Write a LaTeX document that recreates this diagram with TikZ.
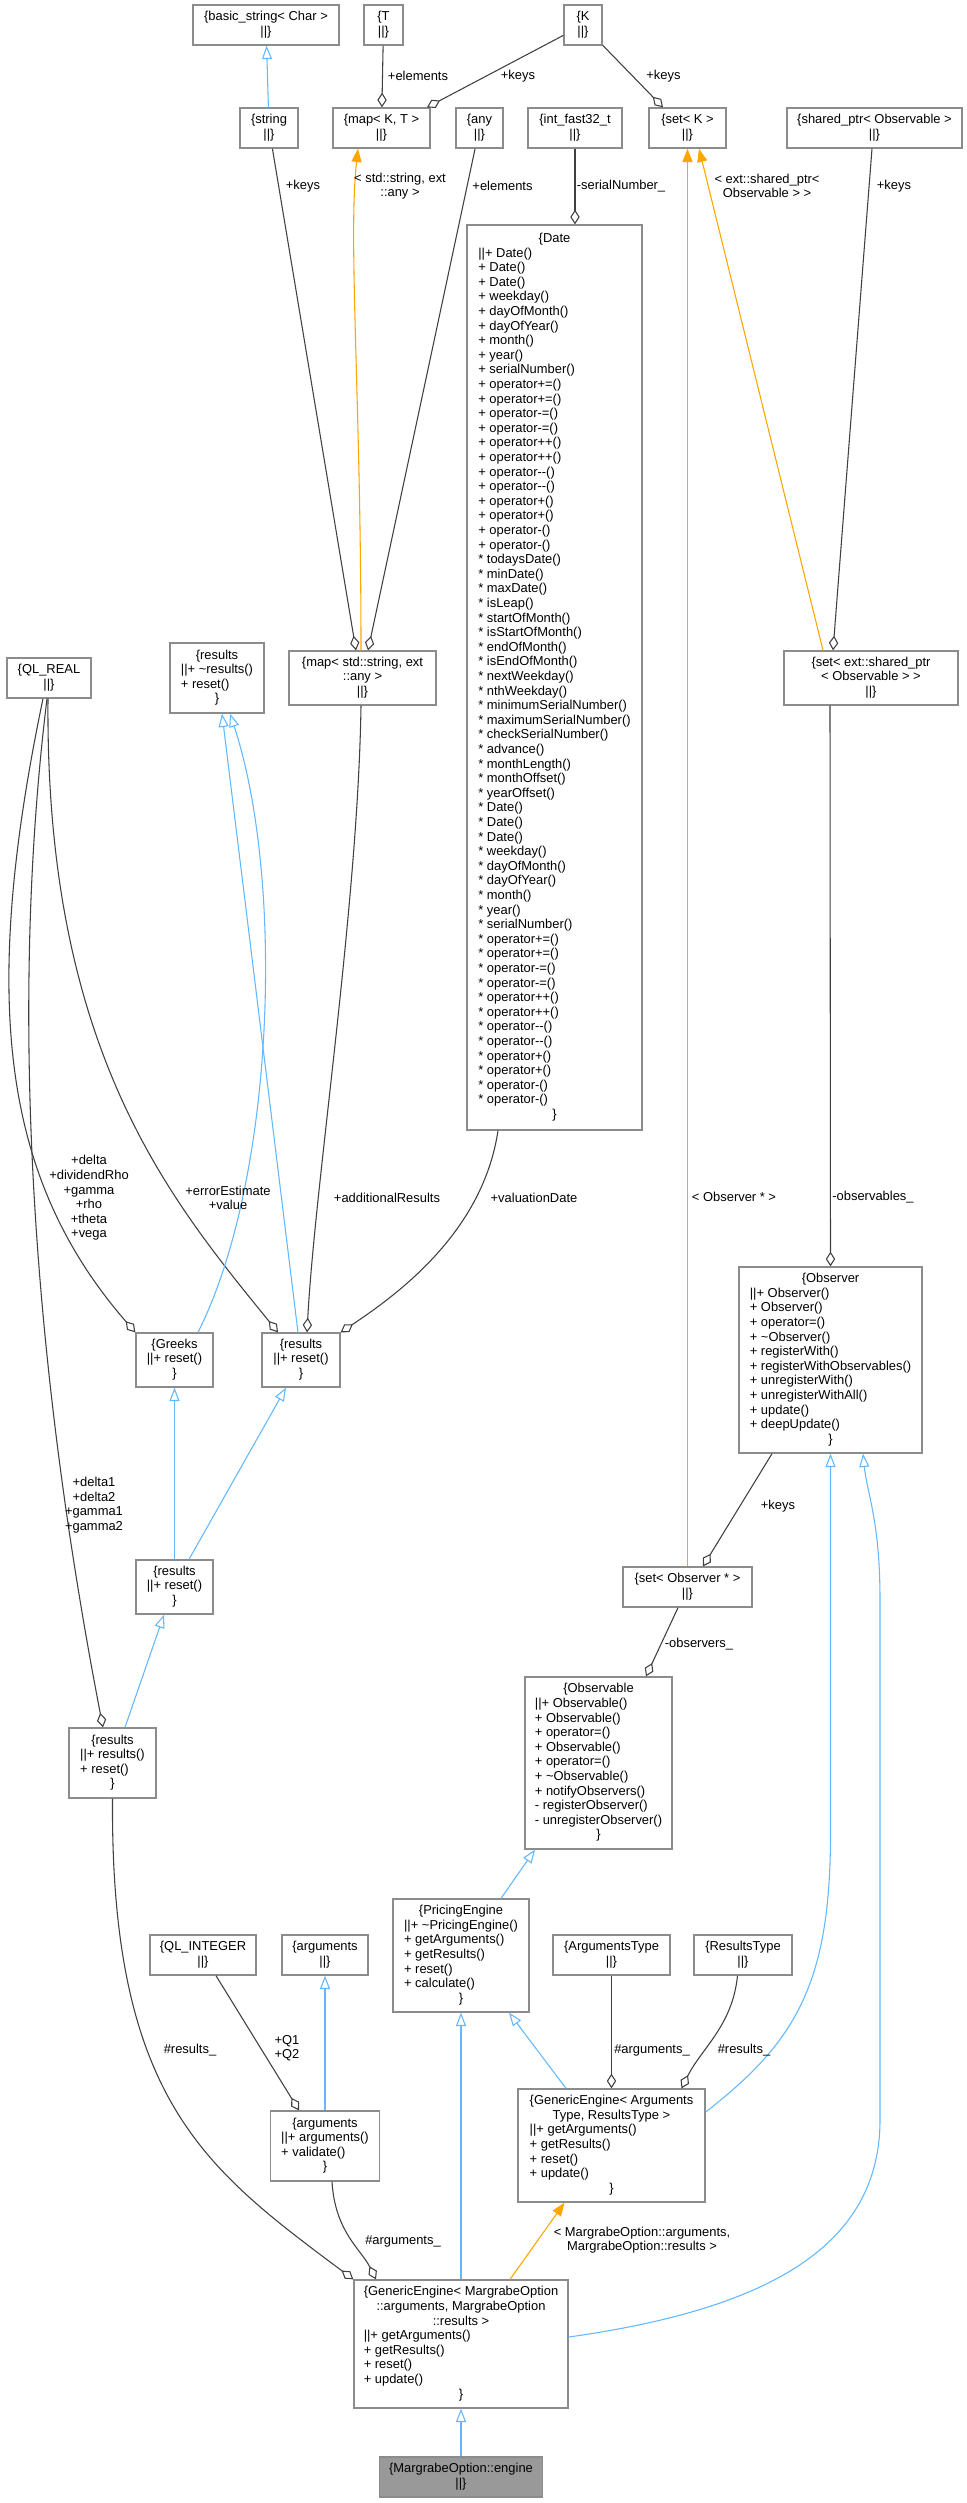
\documentclass[tikz,border=0pt]{standalone}
\usepackage{fontspec}
\setmainfont{Liberation Sans}
\usetikzlibrary{arrows.meta}

\definecolor{linea}{HTML}{404040}
\definecolor{azzurro}{HTML}{63B8FF}
\definecolor{arancio}{HTML}{FFA500}
\definecolor{bordo}{HTML}{8C8C8C}
\definecolor{grigiocorr}{HTML}{999999}

% righe di una classe: intestazione centrata, membri allineati a sinistra
\newcommand{\centrata}[1]{\multicolumn{1}{@{}c@{}}{#1}}
\newcommand{\righe}[1]{\begin{tabular}{@{}l@{}}#1\end{tabular}}

\begin{document}
\begin{tikzpicture}[
  x=0.75pt, y=-0.75pt,
  font=\fontsize{9.7}{10.95}\selectfont,
  classe/.style={draw=bordo, line width=1pt, fill=white, inner sep=0pt},
  misure/.style 2 args={minimum width=#1*0.75pt, minimum height=#2*0.75pt},
  corrente/.style={fill=grigiocorr},
  etichetta/.style={align=center, inner sep=0pt},
  aggrega/.style={draw=linea, line width=0.8pt,
                  -{Diamond[open, length=11pt, width=7pt]}},
  eredita/.style={draw=azzurro, line width=0.8pt,
                  -{Triangle[open, length=10pt, width=7.5pt]}},
  istanza/.style={draw=arancio, line width=0.8pt,
                  -{Triangle[length=10pt, width=7.5pt]}}
]

\fill[white] (0,0) rectangle (967,2503);
\useasboundingbox (0,0) rectangle (967,2503);

%--------------------------------------------------------------
% Tipi di base, in alto
%--------------------------------------------------------------
\node[classe, misure={146}{40}] (basicstring) at (266,25)
  {\righe{\centrata{\{basic\_string< Char >}\\ \centrata{||\}}}};
\node[classe, misure={39}{40}] (tipoT) at (383.5,25)
  {\righe{\centrata{\{T}\\ \centrata{||\}}}};
\node[classe, misure={38}{40}] (tipoK) at (583,25)
  {\righe{\centrata{\{K}\\ \centrata{||\}}}};

\node[classe, misure={58}{40}] (string) at (269,128)
  {\righe{\centrata{\{string}\\ \centrata{||\}}}};
\node[classe, misure={97}{40}] (mapKT) at (381.5,128)
  {\righe{\centrata{\{map< K, T >}\\ \centrata{||\}}}};
\node[classe, misure={47}{40}] (any) at (479.5,128)
  {\righe{\centrata{\{any}\\ \centrata{||\}}}};
\node[classe, misure={94}{40}] (intfast) at (575,128)
  {\righe{\centrata{\{int\_fast32\_t}\\ \centrata{||\}}}};
\node[classe, misure={77}{40}] (setK) at (687.5,128)
  {\righe{\centrata{\{set< K >}\\ \centrata{||\}}}};
\node[classe, misure={175}{40}] (sharedptr) at (874.5,128)
  {\righe{\centrata{\{shared\_ptr< Observable >}\\ \centrata{||\}}}};

%--------------------------------------------------------------
% Secondo livello: QL_REAL, results, map, Date, set
%--------------------------------------------------------------
\node[classe, misure={84}{40}] (qlreal) at (49,678)
  {\righe{\centrata{\{QL\_REAL}\\ \centrata{||\}}}};
\node[classe, misure={94}{70}] (resultsA) at (217,678)
  {\righe{\centrata{\{results}\\ ||+ \textasciitilde results()\\ + reset()\\ \centrata{\}}}};
\node[classe, misure={147}{54}] (mapSA) at (362.5,678)
  {\righe{\centrata{\{map< std::string, ext}\\ \centrata{::any >}\\ \centrata{||\}}}};
\node[classe, misure={174}{54}] (setSP) at (871,678)
  {\righe{\centrata{\{set< ext::shared\_ptr}\\ \centrata{< Observable > >}\\ \centrata{||\}}}};

\node[classe, misure={175}{905}] (date) at (554.5,677.5)
  {\righe{\centrata{\{Date}\\ ||+ Date()\\ + Date()\\ + Date()\\ + weekday()\\
   + dayOfMonth()\\ + dayOfYear()\\ + month()\\ + year()\\ + serialNumber()\\
   + operator+=()\\ + operator+=()\\ + operator-=()\\ + operator-=()\\
   + operator++()\\ + operator++()\\ + operator-{}-()\\ + operator-{}-()\\
   + operator+()\\ + operator+()\\ + operator-()\\ + operator-()\\
   {*} todaysDate()\\ {*} minDate()\\ {*} maxDate()\\ {*} isLeap()\\
   {*} startOfMonth()\\ {*} isStartOfMonth()\\ {*} endOfMonth()\\
   {*} isEndOfMonth()\\ {*} nextWeekday()\\ {*} nthWeekday()\\
   {*} minimumSerialNumber()\\ {*} maximumSerialNumber()\\
   {*} checkSerialNumber()\\ {*} advance()\\ {*} monthLength()\\
   {*} monthOffset()\\ {*} yearOffset()\\ {*} Date()\\ {*} Date()\\ {*} Date()\\
   {*} weekday()\\ {*} dayOfMonth()\\ {*} dayOfYear()\\ {*} month()\\ {*} year()\\
   {*} serialNumber()\\ {*} operator+=()\\ {*} operator+=()\\
   {*} operator-=()\\ {*} operator-=()\\ {*} operator++()\\ {*} operator++()\\
   {*} operator-{}-()\\ {*} operator-{}-()\\ {*} operator+()\\ {*} operator+()\\
   {*} operator-()\\ {*} operator-()\\ \centrata{\}}}};

%--------------------------------------------------------------
% Greeks, results, Observer
%--------------------------------------------------------------
\node[classe, misure={77}{54}] (greeks) at (174.5,1360)
  {\righe{\centrata{\{Greeks}\\ ||+ reset()\\ \centrata{\}}}};
\node[classe, misure={78}{54}] (resultsB) at (301,1360)
  {\righe{\centrata{\{results}\\ ||+ reset()\\ \centrata{\}}}};
\node[classe, misure={183}{186}] (observer) at (830.5,1360)
  {\righe{\centrata{\{Observer}\\ ||+ Observer()\\ + Observer()\\ + operator=()\\
   + \textasciitilde Observer()\\ + registerWith()\\ + registerWithObservables()\\
   + unregisterWith()\\ + unregisterWithAll()\\ + update()\\ + deepUpdate()\\
   \centrata{\}}}};

\node[classe, misure={77}{54}] (resultsC) at (174.5,1587)
  {\righe{\centrata{\{results}\\ ||+ reset()\\ \centrata{\}}}};
\node[classe, misure={129}{40}] (setObs) at (687.5,1587)
  {\righe{\centrata{\{set< Observer * >}\\ \centrata{||\}}}};

\node[classe, misure={87}{70}] (resultsD) at (112.5,1763)
  {\righe{\centrata{\{results}\\ ||+ results()\\ + reset()\\ \centrata{\}}}};
\node[classe, misure={147}{172}] (observable) at (598.5,1763)
  {\righe{\centrata{\{Observable}\\ ||+ Observable()\\ + Observable()\\
   + operator=()\\ + Observable()\\ + operator=()\\ + \textasciitilde Observable()\\
   + notifyObservers()\\ - registerObserver()\\ - unregisterObserver()\\
   \centrata{\}}}};

%--------------------------------------------------------------
% Motori di calcolo
%--------------------------------------------------------------
\node[classe, misure={106}{40}] (qlint) at (203,1955)
  {\righe{\centrata{\{QL\_INTEGER}\\ \centrata{||\}}}};
\node[classe, misure={86}{40}] (argsTop) at (325,1955)
  {\righe{\centrata{\{arguments}\\ \centrata{||\}}}};
\node[classe, misure={136}{113}] (pricing) at (461,1955.5)
  {\righe{\centrata{\{PricingEngine}\\ ||+ \textasciitilde PricingEngine()\\
   + getArguments()\\ + getResults()\\ + reset()\\ + calculate()\\ \centrata{\}}}};
\node[classe, misure={117}{40}] (argT) at (611.5,1955)
  {\righe{\centrata{\{ArgumentsType}\\ \centrata{||\}}}};
\node[classe, misure={98}{40}] (resT) at (743,1955)
  {\righe{\centrata{\{ResultsType}\\ \centrata{||\}}}};

\node[classe, misure={109}{70}] (argsLow) at (325,2146)
  {\righe{\centrata{\{arguments}\\ ||+ arguments()\\ + validate()\\ \centrata{\}}}};
\node[classe, misure={187}{113}] (gear) at (611.5,2145.5)
  {\righe{\centrata{\{GenericEngine< Arguments}\\ \centrata{Type, ResultsType >}\\
   ||+ getArguments()\\ + getResults()\\ + reset()\\ + update()\\ \centrata{\}}}};

\node[classe, misure={214}{128}] (gemo) at (461,2344)
  {\righe{\centrata{\{GenericEngine< MargrabeOption}\\
   \centrata{::arguments, MargrabeOption}\\ \centrata{::results >}\\
   ||+ getArguments()\\ + getResults()\\ + reset()\\ + update()\\ \centrata{\}}}};
\node[classe, corrente, misure={163}{40}] (engine) at (461,2477)
  {\righe{\centrata{\{MargrabeOption::engine}\\ \centrata{||\}}}};

%--------------------------------------------------------------
% Collegamenti in alto
%--------------------------------------------------------------
\draw[eredita] (string) -- (basicstring);
\draw[aggrega] (tipoT) -- (mapKT);
\draw[aggrega] (tipoK) -- ([shift={(45.5,0)}]mapKT.north);
\draw[aggrega] (tipoK) -- ([shift={(-24.5,0)}]setK.north);
\draw[istanza] ([shift={(-1.5,0)}]mapSA.north) .. controls +(0,-250) and +(-10,90) ..
  ([shift={(-23.5,0)}]mapKT.south);
\draw[aggrega] (string) -- ([shift={(-6.5,0)}]mapSA.north);
\draw[aggrega] (any) -- ([shift={(5.5,0)}]mapSA.north);
\draw[aggrega] (intfast) -- ([shift={(20.5,0)}]date.north);
\draw[istanza] (setObs) -- (setK);
\draw[istanza] ([shift={(-48,0)}]setSP.north) -- ([shift={(11.5,0)}]setK.south);
\draw[aggrega] ([shift={(-2.5,0)}]sharedptr.south) -- ([shift={(-38,0)}]setSP.north);
\draw[aggrega] ([shift={(-41,0)}]setSP.south) -- (observer.north);

%--------------------------------------------------------------
% Collegamenti dei results
%--------------------------------------------------------------
\draw[aggrega] ([shift={(-6,0)}]qlreal.south) .. controls +(-63,302) and +(-133,-153) ..
  (greeks.north west);
\draw[aggrega] ([shift={(-2,0)}]qlreal.south) .. controls +(-37,302) and +(-73,-378) ..
  ([shift={(-9.5,0)}]resultsD.north);
\draw[aggrega] ([shift={(-1,0)}]qlreal.south) .. controls +(-3,352) and +(-108,-133) ..
  ([shift={(-23,0)}]resultsB.north);
\draw[eredita] ([shift={(23.5,0)}]greeks.north) .. controls +(77,-153) and +(55,167) ..
  ([shift={(13,0)}]resultsA.south);
\draw[eredita] ([shift={(-3,0)}]resultsB.north) -- ([shift={(5,0)}]resultsA.south);
\draw[aggrega] ([shift={(-1.5,0)}]mapSA.south) .. controls +(-3,200) and +(8,-150) ..
  ([shift={(6,0)}]resultsB.north);
\draw[aggrega] ([shift={(-56.5,0)}]date.south) .. controls +(-15,100) and +(60,-40) ..
  (resultsB.north east);
\draw[eredita] (resultsC) -- (greeks);
\draw[eredita] ([shift={(14.5,0)}]resultsC.north) -- ([shift={(-15,0)}]resultsB.south);
\draw[eredita] ([shift={(12.5,0)}]resultsD.north) -- ([shift={(-10.5,0)}]resultsC.south);

%--------------------------------------------------------------
% Observer e Observable
%--------------------------------------------------------------
\draw[aggrega] ([shift={(-58.5,0)}]observer.south) -- ([shift={(15.5,0)}]setObs.north);
\draw[aggrega] ([shift={(-9.5,0)}]setObs.south) -- ([shift={(47.5,0)}]observable.north);
\draw[eredita] ([shift={(40,0)}]pricing.north) -- ([shift={(-63.5,0)}]observable.south);

%--------------------------------------------------------------
% Motori
%--------------------------------------------------------------
\draw[eredita] ([shift={(-45.5,0)}]gear.north) -- ([shift={(48,0)}]pricing.south);
\draw[eredita] (gemo) -- (pricing);
\draw[eredita] ([shift={(0,-33.5)}]gear.east) .. controls +(90,-70) and +(0,150) ..
  ([shift={(0,380)}]observer.south) -- (observer.south);
\draw[eredita] ([shift={(0,-7)}]gemo.east) .. controls +(192,-27) and +(0,130) ..
  (880,2120) -- (880,1600) .. controls +(0,-80) and +(4,40) ..
  ([shift={(32.5,0)}]observer.south);
\draw[aggrega] ([shift={(13,0)}]qlint.south) -- ([shift={(-26,0)}]argsLow.north);
\draw[eredita] (argsLow) -- (argsTop);
\draw[aggrega] (argT) -- (gear);
\draw[aggrega] ([shift={(-5.5,0)}]resT.south) .. controls +(-5,50) and +(20,-40) ..
  ([shift={(70,0)}]gear.north);
\draw[istanza] ([shift={(49,0)}]gemo.north) -- ([shift={(-47,0)}]gear.south);
\draw[aggrega] (resultsD.south) .. controls +(-2,302) and +(-147,-110) ..
  (gemo.north west);
\draw[aggrega] ([shift={(7,0)}]argsLow.south) .. controls +(3,50) and +(-15,-30) ..
  ([shift={(-85,0)}]gemo.north);
\draw[eredita] (engine) -- (gemo);

%--------------------------------------------------------------
% Etichette dei collegamenti
%--------------------------------------------------------------
\node[etichetta] (lElemT) at (418,76) {+elements};
\node[etichetta] (lKeysMap) at (518,76) {+keys};
\node[etichetta] (lKeysSet) at (663.5,76) {+keys};
\node[etichetta] (lKeysStr) at (303,186) {+keys};
\node[etichetta] (lMapSA) at (400,186) {< std::string, ext\\::any >};
\node[etichetta] (lElemAny) at (502.5,186) {+elements};
\node[etichetta] (lSerial) at (621,186) {-serialNumber\_};
\node[etichetta] (lSetSP) at (767,186) {< ext::shared\_ptr<\\Observable > >};
\node[etichetta] (lKeysSP) at (894,186) {+keys};
\node[etichetta] (lGreeks) at (89,1198)
  {+delta\\+dividendRho\\+gamma\\+rho\\+theta\\+vega};
\node[etichetta] (lErr) at (228,1198) {+errorEstimate\\+value};
\node[etichetta] (lAdd) at (387,1198) {+additionalResults};
\node[etichetta] (lVal) at (534,1198) {+valuationDate};
\node[etichetta] (lObsPtr) at (734,1197) {< Observer * >};
\node[etichetta] (lObsv) at (873,1197) {-observables\_};
\node[etichetta] (lDelta) at (94,1505) {+delta1\\+delta2\\+gamma1\\+gamma2};
\node[etichetta] (lKeysObs) at (778,1506) {+keys};
\node[etichetta] (lObservers) at (699,1644) {-observers\_};
\node[etichetta] (lResD) at (190,2050) {\#results\_};
\node[etichetta] (lQ) at (287,2048) {+Q1\\+Q2};
\node[etichetta] (lArgT) at (652,2050) {\#arguments\_};
\node[etichetta] (lResT) at (744,2050) {\#results\_};
\node[etichetta] (lArgsLow) at (403,2241) {\#arguments\_};
\node[etichetta] (lMO) at (642,2240)
  {< MargrabeOption::arguments,\\MargrabeOption::results >};

\end{tikzpicture}
\end{document}
